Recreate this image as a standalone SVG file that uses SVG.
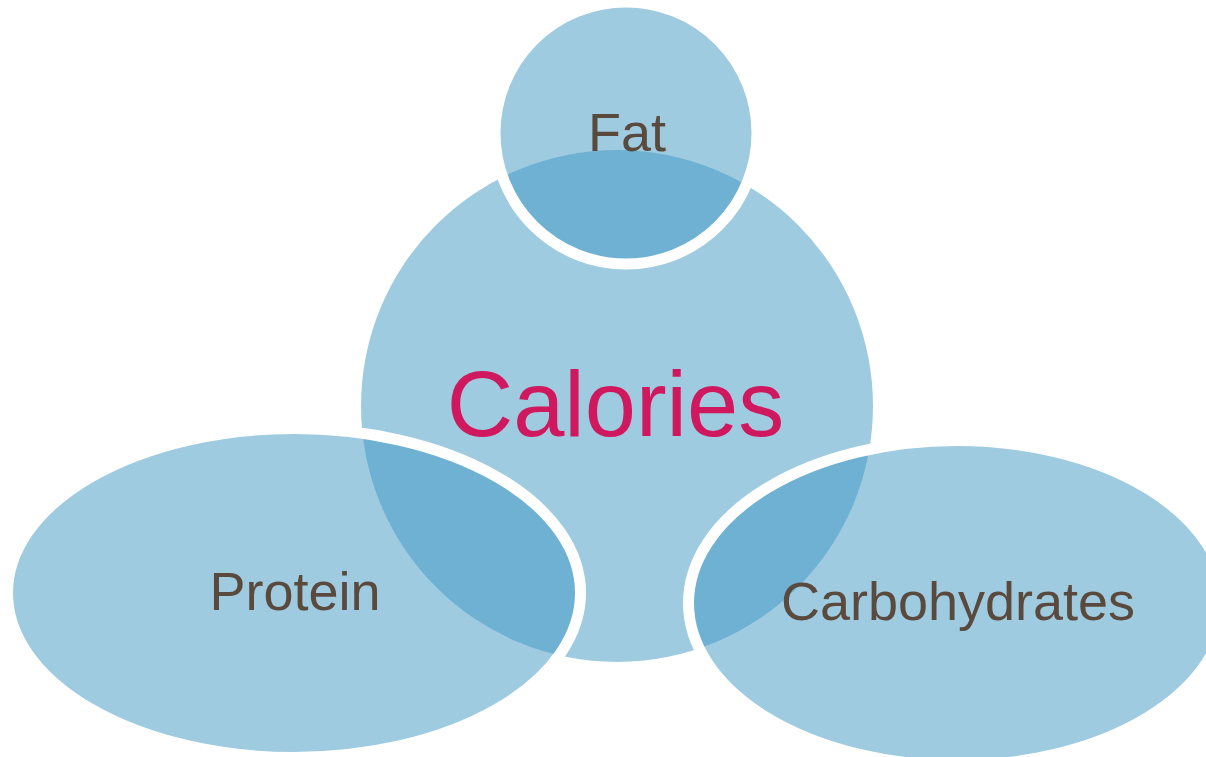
<svg xmlns="http://www.w3.org/2000/svg" width="1206" height="757" viewBox="0 0 1206 757">
<style>
.shape{fill:#3F97C3;fill-opacity:0.5;stroke:#FFFFFF;stroke-width:11}
.center{fill:#3F97C3;fill-opacity:0.5;stroke:none}
.lbl{font-family:"Liberation Sans",Arial,sans-serif;fill:#5A4A3E;font-size:54px;text-anchor:middle}
.main{font-family:"Liberation Sans",Arial,sans-serif;fill:#D0185F;font-size:92px;text-anchor:middle}
</style>
<rect width="1206" height="757" fill="#FFFFFF"/>
<g id="calories">
<circle class="center" cx="617" cy="406" r="256"/>
</g>
<g id="fat">
<circle class="shape" cx="626" cy="133" r="131"/>
</g>
<g id="protein">
<ellipse class="shape" cx="294" cy="593" rx="286.5" ry="164.5"/>
</g>
<g id="carbohydrates">
<ellipse class="shape" cx="957" cy="603" rx="268.5" ry="162.5"/>
</g>
<g id="connectors"></g>
<g id="labels">
<text class="main" x="615.5" y="436">Calories</text>
<text class="lbl" x="627" y="151">Fat</text>
<text class="lbl" x="295" y="610">Protein</text>
<text class="lbl" x="958" y="620">Carbohydrates</text>
</g>
</svg>
